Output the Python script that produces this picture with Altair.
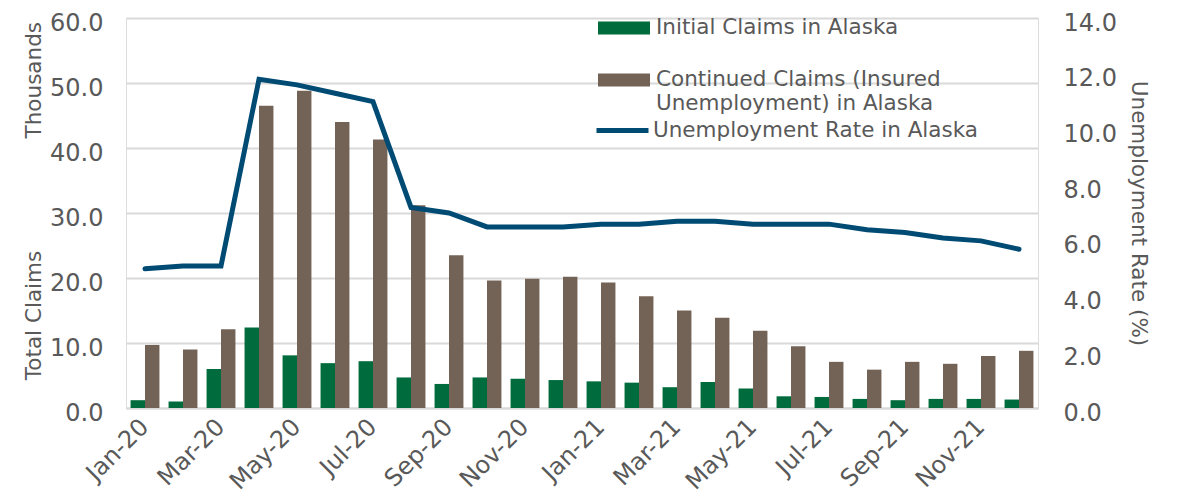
import altair as alt
import pandas as pd

months = ["Jan-20", "Feb-20", "Mar-20", "Apr-20", "May-20", "Jun-20", "Jul-20", "Aug-20",
          "Sep-20", "Oct-20", "Nov-20", "Dec-20", "Jan-21", "Feb-21", "Mar-21", "Apr-21",
          "May-21", "Jun-21", "Jul-21", "Aug-21", "Sep-21", "Oct-21", "Nov-21", "Dec-21"]
initial_claims = [1.2, 1.0, 6.0, 12.4, 8.1, 6.9, 7.2, 4.7, 3.7, 4.7, 4.5, 4.3,
                  4.1, 3.9, 3.2, 4.0, 3.0, 1.8, 1.7, 1.4, 1.2, 1.4, 1.4, 1.3]
continued_claims = [9.7, 9.0, 12.1, 46.5, 48.8, 44.0, 41.3, 31.2, 23.5, 19.6, 19.9, 20.2,
                    19.3, 17.2, 15.0, 13.9, 11.9, 9.5, 7.1, 5.9, 7.1, 6.8, 8.0, 8.8]
unemployment_rate = [5.0, 5.1, 5.1, 11.8, 11.6, 11.3, 11.0, 7.2, 7.0, 6.5, 6.5, 6.5,
                     6.6, 6.6, 6.7, 6.7, 6.6, 6.6, 6.6, 6.4, 6.3, 6.1, 6.0, 5.7]
series_names = ["Initial Claims in Alaska", "Continued Claims (Insured Unemployment) in Alaska"]
line_name = "Unemployment Rate in Alaska"

GREEN = "#006B3C"
BROWN = "#736357"
BLUE = "#004B73"
TEXT = "#595959"
GRID = "#D9D9D9"
FONT = "DejaVu Sans"
FS = 21.5      # titles and legend
TICK_FS = 24   # axis tick labels

bar_rows = []
for m, a, b in zip(months, initial_claims, continued_claims):
    bar_rows.append({"month": m, "series": series_names[0], "value": a})
    bar_rows.append({"month": m, "series": series_names[1], "value": b})
bar_df = pd.DataFrame(bar_rows)
line_df = pd.DataFrame({"month": months, "rate": unemployment_rate, "label": line_name})

x_enc = alt.X("month:N", sort=months, title=None,
              scale=alt.Scale(paddingInner=0.24, paddingOuter=0.12),
              axis=alt.Axis(values=months[::2], labelAngle=-45, labelAlign="right",
                            labelBaseline="middle", labelPadding=15, ticks=False,
                            domainColor=GRID, domainWidth=2, labelColor=TEXT,
                            labelFontSize=TICK_FS, labelFont=FONT, grid=False))

bars = alt.Chart(bar_df).mark_bar().encode(
    x=x_enc,
    xOffset=alt.XOffset("series:N", sort=series_names,
                        scale=alt.Scale(domain=series_names, paddingInner=0, paddingOuter=0)),
    y=alt.Y("value:Q", scale=alt.Scale(domain=[0, 60]),
            axis=alt.Axis(values=[0, 10, 20, 30, 40, 50, 60], format=".1f", grid=True,
                          gridColor=GRID, gridWidth=2, domain=False, ticks=False,
                          labelPadding=23, labelOffset=5, labelColor=TEXT,
                          labelFontSize=TICK_FS, labelFont=FONT,
                          title="Total Claims", titleColor=TEXT, titleFontSize=FS,
                          titleFont=FONT, titleFontWeight="normal", titleAngle=-90,
                          titleAlign="center", titleBaseline="middle",
                          titleX=-92, titleY=297)),
    color=alt.Color("series:N", sort=series_names,
                    scale=alt.Scale(domain=series_names, range=[GREEN, BROWN]),
                    legend=alt.Legend(title=None, orient="none", legendX=472, legendY=-16,
                                      symbolType="M-1,-0.25H1V0.25H-1Z", symbolSize=2704,
                                      symbolStrokeWidth=0, labelFontSize=FS, labelFont=FONT,
                                      labelColor=TEXT, labelOffset=6, labelLimit=0,
                                      rowPadding=15, padding=0,
                                      labelExpr="datum.label == '" + series_names[1] +
                                      "' ? ['Continued Claims (Insured', 'Unemployment) in Alaska'] : datum.label")),
)

line = alt.Chart(line_df).mark_line(strokeWidth=5, strokeCap="round", strokeJoin="miter").encode(
    x=alt.X("month:N", sort=months),
    y=alt.Y("rate:Q", scale=alt.Scale(domain=[0, 14]),
            axis=alt.Axis(orient="right", values=[0, 2, 4, 6, 8, 10, 12, 14], format=".1f",
                          grid=False, domain=False, ticks=False, labelPadding=25, labelOffset=5,
                          labelColor=TEXT, labelFontSize=TICK_FS, labelFont=FONT,
                          title="Unemployment Rate (%)", titleColor=TEXT, titleFontSize=FS,
                          titleFont=FONT, titleFontWeight="normal", titlePadding=10)),
    stroke=alt.Stroke("label:N", scale=alt.Scale(domain=[line_name], range=[BLUE]),
                      legend=alt.Legend(title=None, orient="none", legendX=468, legendY=84,
                                        symbolType="stroke", symbolSize=2704,
                                        symbolStrokeWidth=5, labelFontSize=FS, labelFont=FONT,
                                        labelColor=TEXT, labelOffset=2, labelLimit=0, padding=0)),
)

chart = alt.layer(bars, line).resolve_scale(y="independent").properties(
    width=912, height=390,
    padding={"left": 15, "top": -6, "right": 5, "bottom": 5},
    title=alt.TitleParams("Thousands", orient="left", anchor="end", frame="group",
                          fontSize=FS, font=FONT, color=TEXT, fontWeight="normal",
                          offset=-22, dx=-4),
).configure_view(stroke=None).configure(background="white")

chart.save("out.html", embed_options={"renderer": "svg", "actions": False})
